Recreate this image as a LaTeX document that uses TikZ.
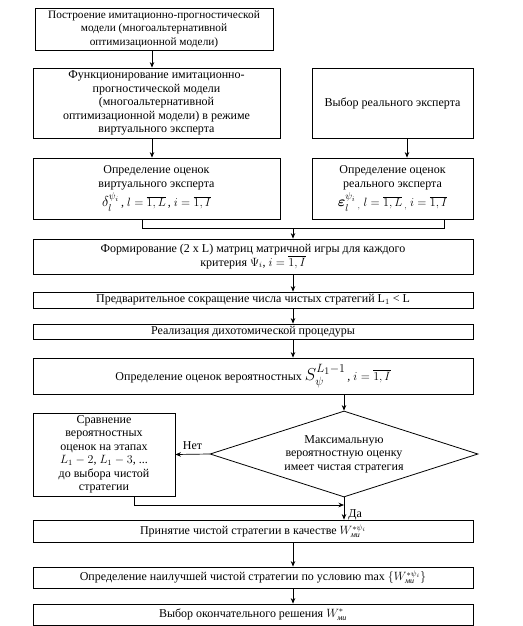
\documentclass[tikz,border=0pt]{standalone}
\usepackage{fontspec}
\usepackage{amsmath}
\setmainfont{Liberation Serif}
\usetikzlibrary{shapes.geometric,arrows.meta}
\newcommand{\mi}{\text{\itshape ми}}
\begin{document}
\begin{tikzpicture}[x=1pt,y=-1pt,
  box/.style={draw, line width=0.8pt, align=center, inner sep=0pt,
    font=\fontsize{12}{13.5}\selectfont},
  lbl/.style={font=\fontsize{12}{13.5}\selectfont, inner sep=2pt},
  arr/.style={-{Stealth[length=5.5pt,width=4.5pt]}, line width=0.7pt},
  ln/.style={line width=0.7pt}]
\useasboundingbox (0,0) rectangle (522,626);

\node[box, minimum width=238pt, minimum height=42pt, font=\fontsize{11.3}{13.5}\selectfont] (b1) at (154,29)
  {Построение  имитационно-прогностической\\модели (многоальтернативной\\оптимизационной  модели)};
\node[box, minimum width=247pt, minimum height=70pt] (b2) at (156.5,103)
  {Функционирование  имитационно-\\прогностической  модели\\(многоальтернативной\\оптимизационной  модели) в режиме\\виртуального эксперта};
\node[box, minimum width=161pt, minimum height=70pt] (b3) at (392.5,103)
  {Выбор реального эксперта};
\node[box, minimum width=247pt, minimum height=61pt] (b4) at (156.5,188.5)
  {Определение  оценок\\виртуального эксперта\\[2pt]
   {\Large$\delta_l^{\psi_i}$}\,, {\large$l=\overline{1,L}$\,, $i=\overline{1,I}$}};
\node[box, minimum width=161pt, minimum height=61pt] (b5) at (392.5,188.5)
  {Определение  оценок\\реального эксперта\\[2pt]
   {\Large$\boldsymbol{\varepsilon}_l^{\psi_i}$}\,{\large$_{,}\ l=\overline{1,L}\,{}_{,}\ i=\overline{1,I}$}};

\coordinate (jl) at (142,228);
\coordinate (jr) at (444,228);
\coordinate (jm) at (293,228);

\node[box, minimum width=440pt, minimum height=35pt] (b6) at (253,256.5)
  {Формирование (2 x L) матриц матричной игры для каждого\\критерия $\Psi_i$, $i=\overline{1,I}$};
\node[box, minimum width=440pt, minimum height=16pt] (b7) at (253,300)
  {Предварительное сокращение  числа чистых стратегий L$_1$ < L};
\node[box, minimum width=440pt, minimum height=15pt] (b8) at (253,331.5)
  {Реализация  дихотомической  процедуры};
\node[box, minimum width=440pt, minimum height=36pt] (b9) at (253,376)
  {Определение  оценок  вероятностных {\LARGE$S_{\psi}^{L_1-1}$}\,, $i=\overline{1,I}$};

\node[diamond, draw, line width=0.8pt, aspect=3.1, minimum width=268pt, minimum height=86pt,
  inner sep=0pt, align=center, font=\fontsize{12}{13.5}\selectfont] (d) at (344,454)
  {Максимальную\\вероятностную  оценку\\имеет чистая стратегия};
\node[box, minimum width=142pt, minimum height=83pt] (b10) at (104,454.5)
  {Сравнение\\вероятностных\\оценок на этапах\\$L_1-2$, $L_1-3$, ...\\до выбора чистой\\стратегии};

\node[box, minimum width=440pt, minimum height=22pt] (b11) at (253,531)
  {Принятие чистой стратегии  в качестве $W_{\mi}^{*\psi_i}$};
\node[box, minimum width=440pt, minimum height=21pt] (b12) at (253,577.5)
  {Определение  наилучшей  чистой стратегии по условию {\large max} $\{W_{\mi}^{*\psi_i}\}$};
\node[box, minimum width=440pt, minimum height=21pt] (b13) at (253,614.5)
  {Выбор окончательного решения $W_{\mi}^{*}$};

\coordinate (c1) at (134,505);
\coordinate (c2) at (344,505);

\draw[arr] (b1.south -| 152,0) -- (b2.north -| 152,0);
\draw[arr] (b2.south -| 152,0) -- (b4.north -| 152,0);
\draw[arr] (b3.south -| 407,0) -- (b5.north -| 407,0);
\draw[ln] (b4.south -| jl) -- (jl) -- (jr) -- (b5.south -| jr);
\draw[arr] (jm) -- (b6.north -| jm);
\draw[arr] (b6.south -| jm) -- (b7.north -| jm);
\draw[arr] (b7.south -| jm) -- (b8.north -| jm);
\draw[arr] (b8.south -| jm) -- (b9.north -| jm);
\draw[arr] (b9.south -| d.north) -- (d.north);
\draw[arr] (d.west) -- node[lbl, above, pos=0.5, yshift=2pt] (net) {Нет} (b10.east);
\draw[ln] (b10.south -| c1) -- (c1);
\draw[arr] (c1) -- (c2);
\draw[arr] (d.south) -- node[lbl, right, pos=0.8, xshift=2pt] (da) {Да} (b11.north -| d.south);
\draw[arr] (b11.south -| jm) -- (b12.north -| jm);
\draw[arr] (b12.south -| jm) -- (b13.north -| jm);
\end{tikzpicture}
\end{document}
